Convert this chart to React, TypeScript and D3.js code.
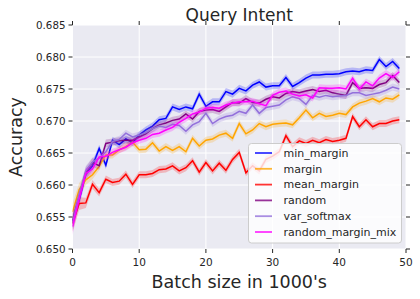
import React, { useEffect } from 'react';
import * as d3 from 'd3';

// batch index (in 1000's)
const batches = d3.range(0, 50);

const minMargin = [
  0.6543, 0.6577, 0.6617, 0.6630, 0.6657, 0.6631, 0.6670, 0.6663, 0.6672, 0.6666,
  0.6678, 0.6686, 0.6692, 0.6702, 0.6704, 0.6722, 0.6718, 0.6722, 0.6719, 0.6742,
  0.6723, 0.6730, 0.6730, 0.6746, 0.6742, 0.6751, 0.6747, 0.6756, 0.6761, 0.6753,
  0.6755, 0.6755, 0.6768, 0.6754, 0.6760, 0.6767, 0.6772, 0.6772, 0.6773, 0.6773,
  0.6774, 0.6777, 0.6778, 0.6777, 0.6780, 0.6779, 0.6796, 0.6785, 0.6793, 0.6782,
];
const margin = [
  0.6558, 0.6593, 0.6608, 0.6616, 0.6629, 0.6647, 0.6647, 0.6655, 0.6660, 0.6667,
  0.6655, 0.6656, 0.6666, 0.6653, 0.6660, 0.6654, 0.6660, 0.6652, 0.6673, 0.6661,
  0.6670, 0.6672, 0.6678, 0.6681, 0.6673, 0.6696, 0.6680, 0.6686, 0.6696, 0.6691,
  0.6695, 0.6696, 0.6697, 0.6694, 0.6705, 0.6717, 0.6705, 0.6712, 0.6707, 0.6709,
  0.6712, 0.6710, 0.6722, 0.6728, 0.6731, 0.6735, 0.6730, 0.6736, 0.6734, 0.6741,
];
const meanMargin = [
  0.6540, 0.6571, 0.6572, 0.6601, 0.6588, 0.6609, 0.6604, 0.6606, 0.6617, 0.6601,
  0.6616, 0.6616, 0.6618, 0.6624, 0.6625, 0.6630, 0.6622, 0.6627, 0.6638, 0.6620,
  0.6635, 0.6622, 0.6634, 0.6623, 0.6640, 0.6651, 0.6619, 0.6630, 0.6622, 0.6640,
  0.6645, 0.6652, 0.6677, 0.6660, 0.6669, 0.6665, 0.6670, 0.6666, 0.6671, 0.6668,
  0.6670, 0.6673, 0.6707, 0.6691, 0.6702, 0.6691, 0.6696, 0.6696, 0.6700, 0.6702,
];
const random = [
  0.6545, 0.6582, 0.6620, 0.6635, 0.6630, 0.6665, 0.6667, 0.6669, 0.6670, 0.6670,
  0.6675, 0.6680, 0.6688, 0.6694, 0.6697, 0.6701, 0.6703, 0.6711, 0.6703, 0.6715,
  0.6717, 0.6718, 0.6715, 0.6722, 0.6729, 0.6728, 0.6735, 0.6729, 0.6728, 0.6734,
  0.6738, 0.6736, 0.6743, 0.6746, 0.6744, 0.6747, 0.6749, 0.6746, 0.6748, 0.6744,
  0.6742, 0.6740, 0.6760, 0.6751, 0.6752, 0.6751, 0.6757, 0.6760, 0.6771, 0.6760,
];
const varSoftmax = [
  0.6540, 0.6585, 0.6622, 0.6636, 0.6642, 0.6652, 0.6668, 0.6671, 0.6681, 0.6675,
  0.6678, 0.6682, 0.6688, 0.6692, 0.6690, 0.6695, 0.6693, 0.6684, 0.6694, 0.6699,
  0.6712, 0.6696, 0.6703, 0.6707, 0.6709, 0.6715, 0.6712, 0.6725, 0.6712, 0.6721,
  0.6723, 0.6725, 0.6733, 0.6738, 0.6735, 0.6726, 0.6740, 0.6737, 0.6740, 0.6738,
  0.6739, 0.6740, 0.6744, 0.6744, 0.6740, 0.6742, 0.6744, 0.6748, 0.6753, 0.6750,
];
const randomMarginMix = [
  0.6535, 0.6578, 0.6618, 0.6625, 0.6644, 0.6645, 0.6651, 0.6655, 0.6659, 0.6666,
  0.6670, 0.6673, 0.6679, 0.6681, 0.6686, 0.6690, 0.6698, 0.6704, 0.6711, 0.6714,
  0.6720, 0.6721, 0.6720, 0.6725, 0.6728, 0.6730, 0.6730, 0.6731, 0.6727, 0.6724,
  0.6740, 0.6745, 0.6747, 0.6742, 0.6739, 0.6741, 0.6736, 0.6752, 0.6751, 0.6751,
  0.6752, 0.6750, 0.6767, 0.6750, 0.6761, 0.6755, 0.6767, 0.6774, 0.6768, 0.6777,
];
// half width of the confidence band, shared by all series
const ciHalf = [
  0.0013, 0.0010, 0.0008, 0.0007, 0.0006, 0.0006, 0.00055, 0.00055, 0.00055, 0.00055,
  0.00055, 0.00055, 0.00055, 0.00055, 0.00055, 0.00055, 0.00055, 0.00055, 0.00055, 0.00055,
  0.00055, 0.00055, 0.00055, 0.00055, 0.00055, 0.00055, 0.00055, 0.00055, 0.00055, 0.00055,
  0.00055, 0.00055, 0.00055, 0.00055, 0.00055, 0.00055, 0.00055, 0.00055, 0.00055, 0.00055,
  0.00055, 0.00055, 0.00055, 0.00055, 0.00055, 0.00055, 0.00055, 0.00055, 0.00055, 0.00055,
];

const seriesNames = ['min_margin', 'margin', 'mean_margin', 'random', 'var_softmax', 'random_margin_mix'];
const seriesValues = [minMargin, margin, meanMargin, random, varSoftmax, randomMarginMix];
const seriesColors = ['#0000ff', '#ffa500', '#ff0000', '#800080', '#9370db', '#ff00ff'];

const xTicks = [0, 10, 20, 30, 40, 50];
const yTicks = [0.65, 0.655, 0.66, 0.665, 0.67, 0.675, 0.68, 0.685];

const W = 420;
const H = 299;
const plot = { left: 72.5, right: 406, top: 25, bottom: 249 };
const FONT = '"DejaVu Sans", sans-serif';
const TXT = '#262626';

export default function App() {
  useEffect(() => {
    document.body.style.margin = '0';
  }, []);

  const x = d3.scaleLinear().domain([0, 50]).range([plot.left, plot.right]);
  const y = d3.scaleLinear().domain([0.65, 0.685]).range([plot.bottom, plot.top]);

  const line = d3.line<number>().x((_, i) => x(batches[i])).y(d => y(d));
  const band = d3
    .area<number>()
    .x((_, i) => x(batches[i]))
    .y0((d, i) => y(d - ciHalf[i]))
    .y1((d, i) => y(d + ciHalf[i]));

  const legendX = 248.5;
  const legendY = 143.5;
  const rowH = 15.8;

  return (
    <svg width={W} height={H} style={{ display: 'block', fontFamily: FONT }}>
      <rect width={W} height={H} fill="#ffffff" />
      <defs>
        <clipPath id="plotclip">
          <rect x={plot.left} y={plot.top} width={plot.right - plot.left} height={plot.bottom - plot.top} />
        </clipPath>
      </defs>
      <rect x={plot.left} y={plot.top} width={plot.right - plot.left} height={plot.bottom - plot.top} fill="#eaeaf2" />

      {/* grid */}
      {xTicks.map(t => (
        <line key={'gx' + t} x1={x(t)} x2={x(t)} y1={plot.top} y2={plot.bottom} stroke="#fff" strokeWidth={1} />
      ))}
      {yTicks.map(t => (
        <line key={'gy' + t} x1={plot.left} x2={plot.right} y1={y(t)} y2={y(t)} stroke="#fff" strokeWidth={1} />
      ))}

      {/* series */}
      <g clipPath="url(#plotclip)">
        {seriesValues.map((vals, k) => (
          <g key={seriesNames[k]}>
            <path d={band(vals) || ''} fill={seriesColors[k]} fillOpacity={0.22} stroke="none" />
            <path d={line(vals) || ''} fill="none" stroke={seriesColors[k]} strokeWidth={1.5} />
          </g>
        ))}
      </g>

      {/* tick marks on all sides */}
      {xTicks.map(t => (
        <g key={'tx' + t}>
          <line x1={x(t)} x2={x(t)} y1={plot.bottom} y2={plot.bottom + 4} stroke={TXT} strokeWidth={1} />
          <line x1={x(t)} x2={x(t)} y1={plot.top} y2={plot.top - 4} stroke={TXT} strokeWidth={1} />
          <text x={x(t)} y={plot.bottom + 17} textAnchor="middle" fontSize={10.5} fill={TXT}>
            {t}
          </text>
        </g>
      ))}
      {yTicks.map(t => (
        <g key={'ty' + t}>
          <line x1={plot.left} x2={plot.left - 4} y1={y(t)} y2={y(t)} stroke={TXT} strokeWidth={1} />
          <line x1={plot.right} x2={plot.right + 4} y1={y(t)} y2={y(t)} stroke={TXT} strokeWidth={1} />
          <text x={plot.left - 7} y={y(t)} dy="0.35em" textAnchor="end" fontSize={10.3} fill={TXT}>
            {t.toFixed(3)}
          </text>
        </g>
      ))}

      {/* titles */}
      <text x={(plot.left + plot.right) / 2} y={20.5} textAnchor="middle" fontSize={17} fill={TXT}>
        Query Intent
      </text>
      <text x={(plot.left + plot.right) / 2} y={288} textAnchor="middle" fontSize={17.5} fill={TXT}>
        Batch size in 1000's
      </text>
      <text
        transform={`translate(22,${(plot.top + plot.bottom) / 2}) rotate(-90)`}
        textAnchor="middle"
        fontSize={17.5}
        fill={TXT}
      >
        Accuracy
      </text>

      {/* legend */}
      <rect x={legendX} y={legendY} width={153} height={99.5} rx={3} fill="#ffffff" fillOpacity={0.8} stroke="#cccccc" strokeWidth={1} />
      {seriesNames.map((name, k) => {
        const cy = legendY + 9.5 + k * rowH;
        return (
          <g key={'lg' + name}>
            <line x1={255} x2={272} y1={cy} y2={cy} stroke={seriesColors[k]} strokeWidth={1.8} strokeOpacity={0.8} />
            <text x={283.5} y={cy} dy="0.35em" fontSize={11} fill={TXT}>
              {name}
            </text>
          </g>
        );
      })}
    </svg>
  );
}
